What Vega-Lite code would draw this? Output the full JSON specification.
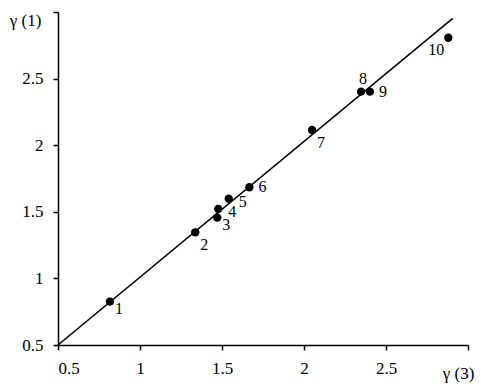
{
  "$schema": "https://vega.github.io/schema/vega-lite/v6.json",
  "width": 410,
  "height": 333,
  "autosize": {"type": "none"},
  "padding": {"left": 58, "top": 12, "right": 13, "bottom": 45},
  "background": "white",
  "config": {
    "view": {"stroke": null},
    "font": "Liberation Serif",
    "axis": {
      "grid": false,
      "domainColor": "black",
      "domainWidth": 1.5,
      "tickColor": "black",
      "tickWidth": 1.5,
      "tickSize": 5,
      "labelFont": "Liberation Serif",
      "labelFontSize": 17,
      "labelColor": "black",
      "titleFont": "Liberation Serif",
      "titleFontSize": 17,
      "titleFontWeight": "normal",
      "titleColor": "black"
    }
  },
  "datasets": {
    "pts": [
      {"x": 0.817, "y": 0.826, "label": "1"},
      {"x": 1.337, "y": 1.346, "label": "2"},
      {"x": 1.471, "y": 1.456, "label": "3"},
      {"x": 1.477, "y": 1.521, "label": "4"},
      {"x": 1.541, "y": 1.598, "label": "5"},
      {"x": 1.667, "y": 1.684, "label": "6"},
      {"x": 2.049, "y": 2.114, "label": "7"},
      {"x": 2.348, "y": 2.402, "label": "8"},
      {"x": 2.402, "y": 2.402, "label": "9"},
      {"x": 2.880, "y": 2.807, "label": "10"}
    ],
    "fit": [
      {"x": 0.5, "y": 0.5},
      {"x": 2.907, "y": 2.953}
    ]
  },
  "encoding": {
    "x": {
      "field": "x", "type": "quantitative",
      "scale": {"domain": [0.5, 3], "nice": false, "zero": false},
      "axis": {
        "values": [0.5, 1, 1.5, 2, 2.5, 3],
        "labelExpr": "datum.value >= 3 ? '' : format(datum.value, '.1~f')",
        "labelPadding": 10,
        "title": "γ (3)",
        "titleX": 400,
        "titleY": 28,
        "titleAlign": "center",
        "titleBaseline": "middle"
      }
    },
    "y": {
      "field": "y", "type": "quantitative",
      "scale": {"domain": [0.5, 3], "nice": false, "zero": false},
      "axis": {
        "values": [0.5, 1, 1.5, 2, 2.5, 3],
        "labelExpr": "datum.value >= 3 ? '' : format(datum.value, '.1~f')",
        "labelPadding": 10,
        "title": "γ (1)",
        "titleAngle": 0,
        "titleX": -33,
        "titleY": 8,
        "titleAlign": "center",
        "titleBaseline": "middle"
      }
    }
  },
  "layer": [
    {
      "data": {"name": "fit"},
      "mark": {"type": "line", "color": "black", "strokeWidth": 1.6}
    },
    {
      "data": {"name": "pts"},
      "mark": {"type": "point", "filled": true, "color": "black", "opacity": 1, "size": 70, "shape": "circle"}
    },
    {
      "data": {"name": "pts"},
      "transform": [{"filter": "datum.label == '1' || datum.label == '3'"}],
      "mark": {"type": "text", "fontSize": 16, "color": "black", "dx": 9, "dy": 7, "align": "center", "baseline": "middle"},
      "encoding": {"text": {"field": "label"}}
    },
    {
      "data": {"name": "pts"},
      "transform": [{"filter": "datum.label == '4' || datum.label == '5'"}],
      "mark": {"type": "text", "fontSize": 16, "color": "black", "dx": 14, "dy": 3, "align": "center", "baseline": "middle"},
      "encoding": {"text": {"field": "label"}}
    },
    {
      "data": {"name": "pts"},
      "transform": [{"filter": "datum.label == '6' || datum.label == '9'"}],
      "mark": {"type": "text", "fontSize": 16, "color": "black", "dx": 13, "dy": 0, "align": "center", "baseline": "middle"},
      "encoding": {"text": {"field": "label"}}
    },
    {
      "data": {"name": "pts"},
      "transform": [{"filter": "datum.label == '2' || datum.label == '7'"}],
      "mark": {"type": "text", "fontSize": 16, "color": "black", "dx": 9, "dy": 13, "align": "center", "baseline": "middle"},
      "encoding": {"text": {"field": "label"}}
    },
    {
      "data": {"name": "pts"},
      "transform": [{"filter": "datum.label == '8'"}],
      "mark": {"type": "text", "fontSize": 16, "color": "black", "dx": 2, "dy": -13, "align": "center", "baseline": "middle"},
      "encoding": {"text": {"field": "label"}}
    },
    {
      "data": {"name": "pts"},
      "transform": [{"filter": "datum.label == '10'"}],
      "mark": {"type": "text", "fontSize": 16, "color": "black", "dx": -12, "dy": 12, "align": "center", "baseline": "middle"},
      "encoding": {"text": {"field": "label"}}
    }
  ]
}
